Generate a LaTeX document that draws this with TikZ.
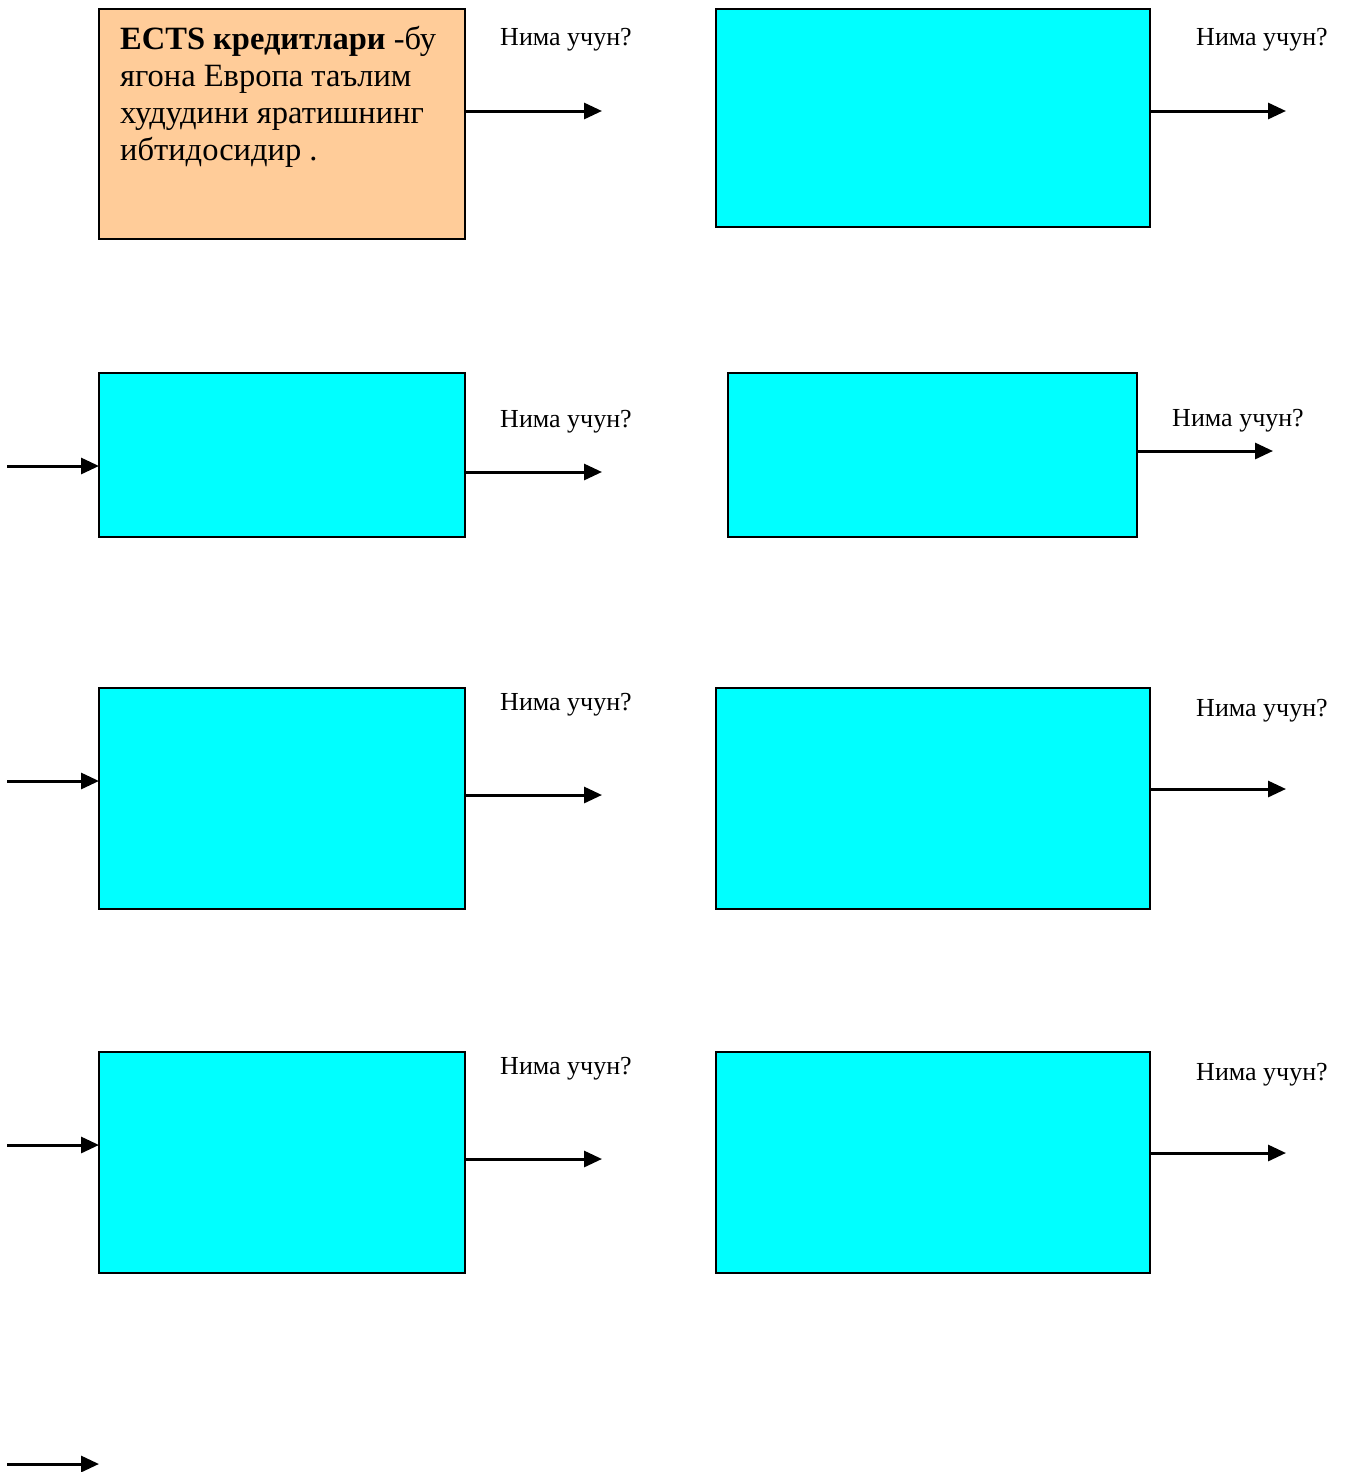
\documentclass[tikz,border=0pt]{standalone}
\usepackage{fontspec}
\setmainfont{Liberation Serif}
\usetikzlibrary{arrows.meta}
\definecolor{peach}{HTML}{FFCC99}
\definecolor{aqua}{HTML}{00FFFF}
\tikzset{
  blk/.style={draw, line width=2pt, fill=aqua, inner sep=0pt, outer sep=0pt},
  arr/.style={line width=3pt, -{Triangle[length=18pt,width=16pt]}},
  why/.style={font=\fontsize{26}{30}\selectfont, inner sep=0pt, anchor=base},
}
\begin{document}
\begin{tikzpicture}[x=1pt, y=-1pt]
  \useasboundingbox (0,0) rectangle (1349,1472);
  % boxes
  \node[blk, fill=peach, minimum width=366pt, minimum height=230pt] (bA) at (282,124) {};
  \node[blk, minimum width=434pt, minimum height=218pt] (bB) at (933,118) {};
  \node[blk, minimum width=366pt, minimum height=164pt] (bC) at (282,455) {};
  \node[blk, minimum width=409pt, minimum height=164pt] (bD) at (932.5,455) {};
  \node[blk, minimum width=366pt, minimum height=221pt] (bE) at (282,798.5) {};
  \node[blk, minimum width=434pt, minimum height=221pt] (bF) at (933,798.5) {};
  \node[blk, minimum width=366pt, minimum height=221pt] (bG) at (282,1162.5) {};
  \node[blk, minimum width=434pt, minimum height=221pt] (bH) at (933,1162.5) {};
  \node[anchor=north west, align=left, inner sep=0pt,
        font=\fontsize{32.5}{37}\selectfont] (tA) at (120,26)
    {\textbf{ECTS кредитлари} -бу\\ягона Европа таълим\\худудини яратишнинг\\ибтидосидир .};
  % labels
  \node[why] (wA) at (566,46) {Нима учун?};
  \node[why] (wB) at (1262,46) {Нима учун?};
  \node[why] (wC) at (566,427) {Нима учун?};
  \node[why] (wD) at (1238,426) {Нима учун?};
  \node[why] (wE) at (566,710) {Нима учун?};
  \node[why] (wF) at (1262,716) {Нима учун?};
  \node[why] (wG) at (566,1074) {Нима учун?};
  \node[why] (wH) at (1262,1080) {Нима учун?};
  % arrow ends
  \coordinate (oA) at (602,111);
  \coordinate (oB) at (1286,111);
  \coordinate (iC) at (7,466);
  \coordinate (oC) at (602,472);
  \coordinate (oD) at (1273,451);
  \coordinate (iE) at (7,781);
  \coordinate (oE) at (602,795);
  \coordinate (oF) at (1286,789);
  \coordinate (iG) at (7,1145);
  \coordinate (oG) at (602,1159);
  \coordinate (oH) at (1286,1153);
  \coordinate (s0) at (7,1464);
  \coordinate (s1) at (99,1464);
  % arrows
  \draw[arr] (bA.east |- oA) -- (oA);
  \draw[arr] (bB.east |- oB) -- (oB);
  \draw[arr] (iC) -- (bC.west |- iC);
  \draw[arr] (bC.east |- oC) -- (oC);
  \draw[arr] (bD.east |- oD) -- (oD);
  \draw[arr] (iE) -- (bE.west |- iE);
  \draw[arr] (bE.east |- oE) -- (oE);
  \draw[arr] (bF.east |- oF) -- (oF);
  \draw[arr] (iG) -- (bG.west |- iG);
  \draw[arr] (bG.east |- oG) -- (oG);
  \draw[arr] (bH.east |- oH) -- (oH);
  \draw[arr] (s0) -- (s1);
\end{tikzpicture}
\end{document}
